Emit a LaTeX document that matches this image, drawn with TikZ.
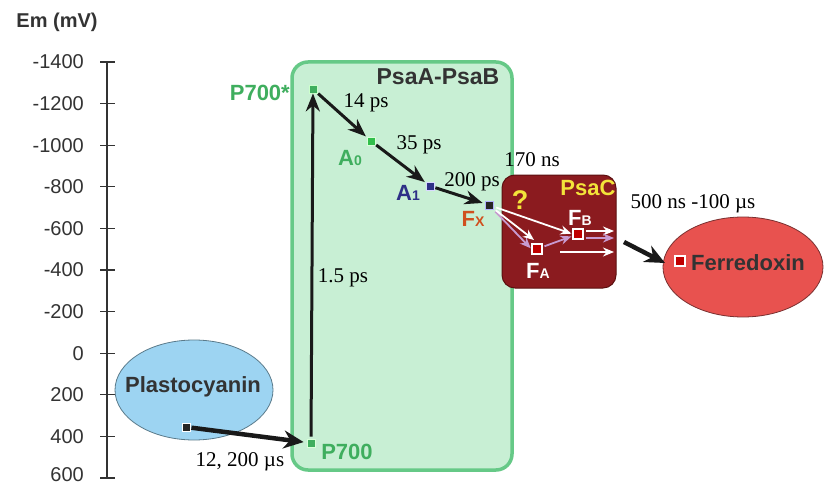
\documentclass[tikz,border=0pt]{standalone}
\usepackage{fontspec}
\setmainfont{Liberation Serif}
\setsansfont{Liberation Sans}
\usetikzlibrary{arrows.meta,shapes.geometric}
\definecolor{boxgreen}{HTML}{C8EFD4}
\definecolor{boxgreenline}{HTML}{66C987}
\definecolor{txgreen}{HTML}{3FAE5E}
\definecolor{txblue}{HTML}{2E2F86}
\definecolor{txorange}{HTML}{D0501E}
\definecolor{psacred}{HTML}{8B1B1F}
\definecolor{psacline}{HTML}{5C1010}
\definecolor{psacyellow}{HTML}{F3E43A}
\definecolor{plastofill}{HTML}{9DD4F2}
\definecolor{plastoline}{HTML}{5A7A8A}
\definecolor{ferrefill}{HTML}{E8524F}
\definecolor{ferreline}{HTML}{7A3030}
\definecolor{lilac}{HTML}{C89AD0}
\definecolor{axisgray}{HTML}{333333}
\newcommand{\mysub}[1]{{\fontsize{14}{14}\selectfont #1}}
\begin{document}
\begin{tikzpicture}[x=1pt,y=-1pt,
  sq/.style={draw, minimum size=8pt, inner sep=0pt, line width=0.8pt},
  bigarrow/.style={line width=3pt, draw=black!90, -{Stealth[length=18pt,width=14pt]}},
  fatarrow/.style={line width=4.5pt, draw=black!90, -{Stealth[length=20pt,width=18pt]}},
  wharrow/.style={line width=1.8pt, draw=white, -{Stealth[length=11pt,width=9pt]}},
  pkarrow/.style={line width=1.8pt, draw=lilac, -{Stealth[length=11pt,width=9pt]}},
  lbl/.style={font=\sffamily\bfseries\fontsize{22}{24}\selectfont, inner sep=0pt},
  tm/.style={font=\fontsize{21}{23}\selectfont, inner sep=0pt},
  axnum/.style={font=\sffamily\fontsize{20}{22}\selectfont, text=axisgray, anchor=east, inner sep=0pt}]
\useasboundingbox (0,0) rectangle (831,487);
\fill[white] (0,0) rectangle (831,487);

% axis
\node[font=\sffamily\bfseries\fontsize{20}{22}\selectfont, text=axisgray, inner sep=0pt] (axlabel) at (57,22) {Em (mV)};
\draw[line width=1.3pt, axisgray] (107,62) -- (107,478);
\foreach \v [count=\k from 0] in {-1400,-1200,-1000,-800,-600,-400,-200,0,200,400}{
  \draw[line width=1.3pt, axisgray] (100,62+41.6*\k) -- (115,62+41.6*\k);
  \node[axnum] (ax\k) at (84,62+41.6*\k) {\v};
}
\draw[line width=1.3pt, axisgray] (100,478) -- (115,478);
\node[axnum] (ax10) at (84,475) {600};

% PsaA-PsaB box
\node[draw=boxgreenline, line width=3.5pt, fill=boxgreen, rounded corners=16pt,
      minimum width=220pt, minimum height=408pt] (psab) at (402,266) {};
\node[lbl, text=black!80, font=\sffamily\bfseries\fontsize{23}{25}\selectfont] (psabl) at (438,77) {PsaA-PsaB};

% Plastocyanin
\node[ellipse, draw=plastoline, line width=0.8pt, fill=plastofill,
      minimum width=158pt, minimum height=100pt] (plasto) at (194,390) {};
\node[lbl, text=black!80] (plastol) at (193,387) {Plastocyanin};

% label partly hidden by PsaC
\node[tm] (t200) at (472,182) {200 ps};

% PsaC box
\node[draw=psacline, line width=1pt, fill=psacred, rounded corners=13pt,
      minimum width=114pt, minimum height=113pt] (psac) at (559,231.5) {};
\node[lbl, text=psacyellow] (psacl) at (588,188) {PsaC};
\node[lbl, text=psacyellow, font=\sffamily\bfseries\fontsize{27}{29}\selectfont] (qm) at (520,200) {?};

% Ferredoxin
\node[ellipse, draw=ferreline, line width=0.8pt, fill=ferrefill,
      minimum width=160pt, minimum height=100pt] (ferre) at (743,267) {};
\node[lbl, text=black!80] (ferrel) at (748,263) {Ferredoxin};

% squares
\node[sq, fill=txgreen, draw=green!20!white] (p700s) at (313,89) {};
\node[sq, fill=txgreen!80!green, draw=green!15!white] (a0) at (371,141) {};
\node[sq, fill=txblue, draw=blue!15!white] (a1) at (430,186) {};
\node[sq, fill=black!85, draw=white!70!blue] (fx) at (489,205) {};
\node[sq, fill=txgreen, draw=green!15!white] (p700) at (311,443) {};
\node[sq, fill=black!85, draw=white] (pc) at (186,427) {};
\node[sq, fill=red!75!black, draw=white, line width=1.2pt, minimum size=10pt] (fa) at (537,249) {};
\node[sq, fill=red!75!black, draw=white, line width=1.2pt, minimum size=10pt] (fb) at (578,234) {};
\node[sq, fill=red!75!black, draw=white, line width=1.2pt, minimum size=10pt] (fd) at (680,261) {};

% species labels
\node[lbl, text=txgreen, anchor=east] (p700sl) at (290,93) {P700*};
\node[lbl, text=txgreen] (p700l) at (347,452) {P700};
\node[lbl, text=txgreen] (a0l) at (350,158) {A\mysub{0}};
\node[lbl, text=txblue] (a1l) at (408,193) {A\mysub{1}};
\node[lbl, text=txorange] (fxl) at (473,219) {F\mysub{X}};
\node[lbl, text=white] (fal) at (538,271) {F\mysub{A}};
\node[lbl, text=white] (fbl) at (580,218) {F\mysub{B}};

% time labels
\node[tm] (t14) at (366,103) {14 ps};
\node[tm] (t35) at (419,145) {35 ps};
\node[tm] (t15) at (343,278) {1.5 ps};
\node[tm] (t170) at (532,160) {170 ns};
\node[tm] (t12) at (240,462) {12, 200 µs};
\node[tm] (t500) at (693,204) {500 ns -100 µs};

% main electron transfer arrows
\draw[bigarrow, shorten <=2pt] (p700) -- (p700s);
\draw[bigarrow, shorten <=1pt, shorten >=1pt] (p700s) -- (a0);
\draw[bigarrow, shorten <=1pt, shorten >=1pt] (a0) -- (a1);
\draw[bigarrow, shorten <=1pt, shorten >=2pt] (a1) -- (fx);
\draw[fatarrow, shorten <=1pt, shorten >=3pt] (pc) -- (p700);
\coordinate (fdstart) at (624,242);
\coordinate (fdend) at (665,263);
\draw[fatarrow] (fdstart) -- (fdend);

% PsaC internal arrows
\coordinate (faw) at (534,240);
\coordinate (fbo1) at (614,231);
\coordinate (fbo2) at (614,238);
\coordinate (lw1) at (560,252);
\coordinate (lw2) at (614,252);
\draw[pkarrow, shorten <=3pt, shorten >=1pt] (fx) -- (fa.west);
\draw[wharrow, shorten <=3pt] (fx) -- (faw);
\draw[wharrow, shorten <=3pt, shorten >=1pt] (fx) -- (fb.west);
\draw[pkarrow, shorten <=2pt, shorten >=1pt] (fa) -- (fb);
\draw[wharrow, shorten <=2pt] (fb.east |- fbo1) -- (fbo1);
\draw[pkarrow, shorten <=2pt] (fb.east |- fbo2) -- (fbo2);
\draw[wharrow] (lw1) -- (lw2);
\end{tikzpicture}
\end{document}
